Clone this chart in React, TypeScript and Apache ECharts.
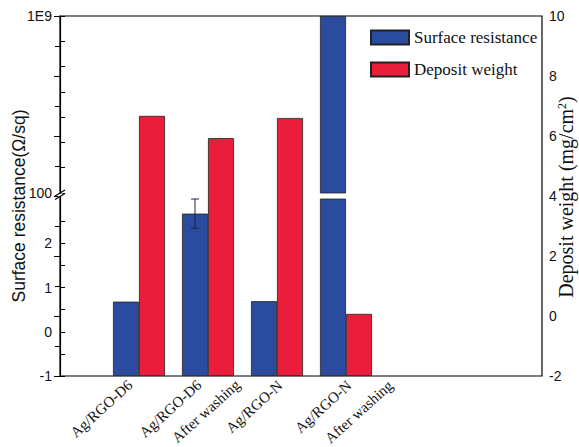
import React, { useEffect, useRef } from "react";
import * as echarts from "echarts";

const categories = ["Ag/RGO-D6", "Ag/RGO-D6", "Ag/RGO-N", "Ag/RGO-N"];
const subLabels = ["", "After washing", "", "After washing"];
const surfaceResistance = [0.68, 2.67, 0.69, 1e9];
const resistanceError = [0, 0.33, 0, 0];
const depositWeight = [6.67, 5.93, 6.6, 0.07];
const lowerTicks = [-1, -0.5, 0, 0.5, 1, 1.5, 2, 2.5];
const lowerLabels = [-1, 0, 1, 2];
const upperTicks = [1e2, 1e3, 1e4, 1e5, 1e6, 1e7, 1e8, 1e9];
const upperLabels = [1e2, 1e9];

const BLUE = "#2a4b9e";
const RED = "#ea1d3b";
const BAR_W = 26;
const SANS = "Liberation Sans";
const SERIF = "Liberation Serif";

export default function App() {
  const ref = useRef<HTMLDivElement>(null);
  useEffect(() => {
    const chart = echarts.init(ref.current!, null, { renderer: "svg" });
    const pL = 60, pT = 16, pW = 482, pH = 360;
    const bL = 104.5, bW = 276;
    const hidden = { show: false };
    const gridBase = { outerBoundsMode: "none", containLabel: false };
    const barBorder = { borderColor: "#222", borderWidth: 0.8 };
    const errData = surfaceResistance
      .map((v, i) => (resistanceError[i] ? [i, v - resistanceError[i], v + resistanceError[i]] : null))
      .filter((d) => d);

    const labelStyle = (margin: number, pd: number, pn: number) => ({
      interval: 0, rotate: 42, margin, fontFamily: SERIF, fontSize: 15, color: "#111",
      formatter: (v: string, i: number) => (v ? (categories[i].indexOf("D6") >= 0 ? `{d|${v}}` : `{n|${v}}`) : ""),
      rich: {
        d: { fontFamily: SERIF, fontSize: 15, color: "#111", padding: [0, pd, 0, 0] },
        n: { fontFamily: SERIF, fontSize: 15, color: "#111", padding: [pn, 0, 0, 0] },
      },
    });

    chart.setOption({
      animation: false,
      backgroundColor: "#fff",
      grid: [
        { ...gridBase, left: pL, top: pT, width: pW, height: pH, show: true, borderColor: "#000", borderWidth: 1.2, backgroundColor: "transparent" },
        { ...gridBase, left: bL, top: pT, width: bW, height: pH },
        { ...gridBase, left: bL, top: 199, width: bW, height: 177 },
        { ...gridBase, left: bL, top: pT, width: bW, height: 177 },
        { ...gridBase, left: bL - 2.5, top: pT, width: bW, height: pH },
        { ...gridBase, left: bL + 37.5, top: pT, width: bW, height: pH },
      ],
      xAxis: [
        { type: "value", gridIndex: 0, show: false, min: 0, max: 1 },
        { type: "category", gridIndex: 1, data: categories, show: false },
        { type: "category", gridIndex: 2, data: categories, show: false },
        { type: "category", gridIndex: 3, data: categories, show: false },
        {
          type: "category", gridIndex: 4, data: categories,
          axisLine: hidden, axisTick: hidden, splitLine: hidden,
          axisLabel: labelStyle(1, 8.5, 17),
        },
        {
          type: "category", gridIndex: 5, data: subLabels,
          axisLine: hidden, axisTick: hidden, splitLine: hidden,
          axisLabel: labelStyle(-0.5, 10.6, 21),
        },
      ],
      yAxis: [
        {
          type: "value", gridIndex: 0, position: "right", min: -2, max: 10, interval: 2,
          axisLine: { show: true, lineStyle: { color: "#000", width: 1.2 } },
          axisTick: { show: true, inside: true, length: 6, lineStyle: { color: "#000" } },
          minorTick: { show: true, splitNumber: 2, length: 5, lineStyle: { color: "#000" } },
          splitLine: hidden, minorSplitLine: hidden,
          axisLabel: { margin: 7, fontFamily: SANS, fontSize: 14, color: "#111", showMinLabel: true, showMaxLabel: true },
        },
        { type: "value", gridIndex: 1, min: -2, max: 10, startValue: -2, show: false },
        {
          type: "value", gridIndex: 2, position: "left", offset: bL - pL, min: -1, max: 3, startValue: -1,
          axisLine: hidden, splitLine: hidden,
          axisTick: { show: true, inside: true, length: 5, customValues: lowerTicks, lineStyle: { color: "#000" } },
          axisLabel: { margin: 8, fontFamily: SANS, fontSize: 14, color: "#111", customValues: lowerLabels },
        },
        {
          type: "log", logBase: 10, gridIndex: 3, position: "left", offset: bL - pL, min: 1e2, max: 1e9,
          axisLine: hidden, splitLine: hidden,
          axisTick: { show: true, inside: true, length: 5, customValues: upperTicks, lineStyle: { color: "#000" } },
          axisLabel: {
            margin: 8, fontFamily: SANS, fontSize: 14, color: "#111", customValues: upperLabels,
            formatter: (v: number) => (v >= 1e9 ? "1E9" : String(Math.round(v))),
          },
        },
        { type: "value", gridIndex: 4, min: 0, max: 1, show: false },
        { type: "value", gridIndex: 5, min: 0, max: 1, show: false },
      ],
      legend: {
        left: 370, top: 29, orient: "vertical", itemWidth: 38, itemHeight: 14, itemGap: 15,
        icon: "rect", padding: 0,
        data: ["Surface resistance", "Deposit weight"],
        textStyle: { fontFamily: SERIF, fontSize: 17, color: "#111" },
      },
      series: [
        { type: "bar", name: "_blank1", xAxisIndex: 1, yAxisIndex: 1, data: categories.map(() => "-"), barWidth: BAR_W, barGap: "0%" },
        { type: "bar", name: "Deposit weight", xAxisIndex: 1, yAxisIndex: 1, data: depositWeight, barWidth: BAR_W, barGap: "0%", itemStyle: { color: RED, ...barBorder } },
        { type: "bar", name: "Surface resistance", xAxisIndex: 2, yAxisIndex: 2, data: surfaceResistance, barWidth: BAR_W, barGap: "0%", clip: true, itemStyle: { color: BLUE, ...barBorder } },
        { type: "bar", name: "_blank2", xAxisIndex: 2, yAxisIndex: 2, data: categories.map(() => "-"), barWidth: BAR_W, barGap: "0%" },
        { type: "bar", name: "Surface resistance", xAxisIndex: 3, yAxisIndex: 3, data: surfaceResistance, barWidth: BAR_W, barGap: "0%", clip: true, itemStyle: { color: BLUE, ...barBorder } },
        { type: "bar", name: "_blank3", xAxisIndex: 3, yAxisIndex: 3, data: categories.map(() => "-"), barWidth: BAR_W, barGap: "0%" },
        {
          type: "custom", name: "_err", xAxisIndex: 2, yAxisIndex: 2, z: 5, data: errData,
          encode: { x: 0, y: [1, 2] },
          renderItem: (params: any, api: any) => {
            const c = api.value(0);
            const lo = api.coord([c, api.value(1)]);
            const hi = api.coord([c, api.value(2)]);
            const x = lo[0] - BAR_W / 2;
            const st = { stroke: "#1b2548", lineWidth: 1 };
            return {
              type: "group",
              children: [
                { type: "line", shape: { x1: x, y1: lo[1], x2: x, y2: hi[1] }, style: st },
                { type: "line", shape: { x1: x - 4, y1: hi[1], x2: x + 4, y2: hi[1] }, style: st },
                { type: "line", shape: { x1: x - 4, y1: lo[1], x2: x + 4, y2: lo[1] }, style: st },
              ],
            };
          },
        },
      ],
      graphic: [
        { type: "rect", z: 100, shape: { x: 58, y: 193.5, width: 5, height: 3 }, style: { fill: "#fff" } },
        { type: "line", z: 101, shape: { x1: 55, y1: 196, x2: 65, y2: 190 }, style: { stroke: "#000", lineWidth: 1.2 } },
        { type: "line", z: 101, shape: { x1: 55, y1: 199.5, x2: 65, y2: 193.5 }, style: { stroke: "#000", lineWidth: 1.2 } },
        {
          type: "text", z: 100, x: 19, y: 206, rotation: Math.PI / 2,
          style: { text: "Surface resistance(Ω/sq)", fontFamily: SANS, fontSize: 17.5, fill: "#111", align: "center", verticalAlign: "middle" },
        },
        {
          type: "text", z: 100, x: 566, y: 197, rotation: Math.PI / 2,
          style: {
            text: "Deposit weight (mg/cm{sup|2})", fontFamily: SERIF, fontSize: 20, fill: "#111", align: "center", verticalAlign: "middle",
            rich: { sup: { fontSize: 12, fontFamily: SERIF, fill: "#111", verticalAlign: "top", padding: [0, 0, 9, 0] } },
          },
        },
      ],
    });
    return () => chart.dispose();
  }, []);
  return <div ref={ref} style={{ position: "fixed", left: 0, top: 0, width: 579, height: 447 }} />;
}
